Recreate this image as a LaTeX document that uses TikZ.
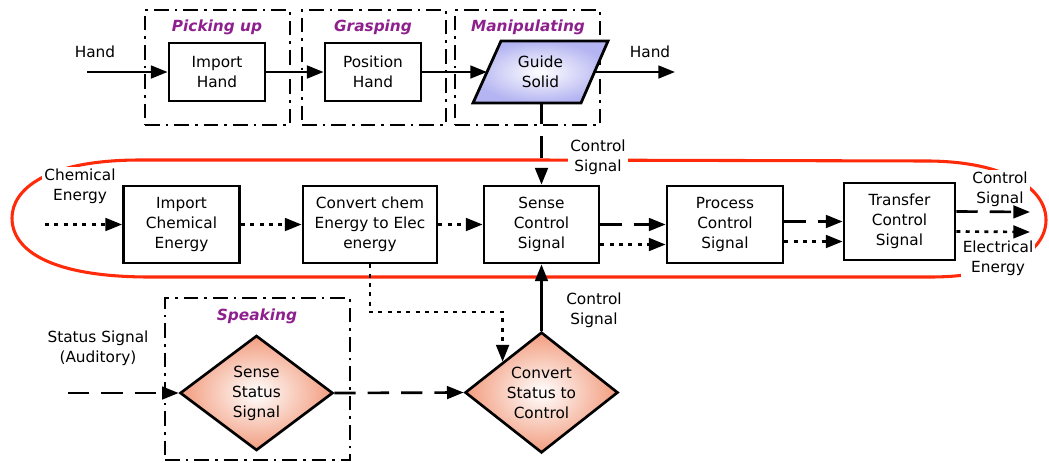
\documentclass[tikz,border=0pt]{standalone}
\usepackage{fontspec}
\setmainfont{DejaVu Sans}
\usetikzlibrary{arrows.meta,shapes.geometric,calc}
\definecolor{loopred}{HTML}{FF2A0A}
\definecolor{titlepurple}{HTML}{8E208E}
\definecolor{lavender}{HTML}{B4B4F2}
\definecolor{salmon}{HTML}{F29C7E}
\begin{document}
\begin{tikzpicture}[x=0.75pt,y=-0.75pt,
  font=\fontsize{11.5}{15}\selectfont,
  every node/.append style={align=center},
  func/.style={draw,line width=2.1pt,rectangle,inner sep=0pt},
  dia/.style={diamond,draw,line width=2pt,inner sep=0pt,
    minimum width=114.75pt,minimum height=86.25pt,
    inner color=white,outer color=salmon},
  frame/.style={draw,line width=1.9pt,
    dash pattern=on 11pt off 4.5pt on 2pt off 4.5pt,inner sep=0pt},
  title/.style={font=\fontsize{11.5}{15}\selectfont\bfseries\itshape,
    text=titlepurple},
  lbl/.style={fill=white,inner sep=1.5pt},
  flow/.style={line width=2pt,-{Triangle[length=12.5pt,width=9.5pt]}},
  mat/.style={flow},
  sig/.style={flow,dash pattern=on 16pt off 9pt},
  en/.style={flow,dash pattern=on 3pt off 4pt},
]
\useasboundingbox (0,0) rectangle (1049,462);

% energy/signal loop
\draw[loopred,line width=2.3pt] (540,160) -- (140,160)
  .. controls (45,160) and (12,190) .. (12,218)
  .. controls (12,250) and (50,277) .. (150,277) -- (930,277)
  .. controls (1005,277) and (1046,252) .. (1046,220)
  .. controls (1046,188) and (1005,162) .. (930,161) -- cycle;

% function groups
\node[frame,minimum width=108.75pt,minimum height=86.25pt] (fpick) at (217.5,67.5) {};
\node[frame,minimum width=108pt,minimum height=86.25pt] (fgrasp) at (374,67.5) {};
\node[frame,minimum width=108.75pt,minimum height=86.25pt] (fmanip) at (527.5,67.5) {};
\node[frame,minimum width=138.75pt,minimum height=121.5pt] (fspeak) at (257.5,379) {};

\node[title] (tpick) at (217,27) {Picking up};
\node[title] (tgrasp) at (373,27) {Grasping};
\node[title] (tmanip) at (528,27) {Manipulating};
\node[title] (tspeak) at (257,316) {Speaking};

% material row
\node[func,minimum width=72pt,minimum height=43.5pt] (ih) at (217,72) {Import\\Hand};
\node[func,minimum width=72pt,minimum height=43.5pt] (ph) at (373,72) {Position\\Hand};
\path[draw,line width=2.1pt,inner color=white,outer color=lavender]
  (473,103) -- (501,41) -- (608,41) -- (581,103) -- cycle;
\node (gs) at (540.5,72) {Guide\\Solid};
\coordinate (gsL) at (487,72);
\coordinate (gsR) at (594.5,72);
\coordinate (gsB) at (540,103);
\coordinate (handin) at (87,72);
\coordinate (handout) at (675,72);

% energy and signal row
\node[func,minimum width=87pt,minimum height=57.75pt] (ic) at (181.5,224.5) {Import\\Chemical\\Energy};
\node[func,minimum width=100.5pt,minimum height=57.75pt] (cv) at (370,224.5) {Convert chem\\Energy to Elec\\energy};
\node[func,minimum width=86.25pt,minimum height=57.75pt] (sc) at (541.5,224.5) {Sense\\Control\\Signal};
\node[func,minimum width=87pt,minimum height=57.75pt] (pc) at (725,224.5) {Process\\Control\\Signal};
\node[func,minimum width=83.25pt,minimum height=57.75pt] (tc) at (899.5,221.5) {Transfer\\Control\\Signal};
\coordinate (chemin) at (45,224.5);
\coordinate (ctrlout) at (1030,212);
\coordinate (elecout) at (1030,232);

% status row
\node[dia] (ss) at (256.5,393) {Sense\\Status\\Signal};
\node[dia] (cs) at (541.5,392.5) {Convert\\Status to\\Control};
\coordinate (statin) at (68,393);
\coordinate (bend) at (0,312);

% labels
\node (lhandin) at (95,52) {Hand};
\node (lhandout) at (650,52) {Hand};
\node[lbl] (lctrltop) at (598,157) {Control\\Signal};
\node[lbl] (lchem) at (80,186) {Chemical\\Energy};
\node[lbl] (lctrlout) at (1000,189) {Control\\Signal};
\node[lbl] (lelec) at (998,258) {Electrical\\Energy};
\node (lctrlbot) at (594,310) {Control\\Signal};
\node (lstat) at (98,348) {Status Signal\\(Auditory)};

% material flows
\draw[mat] (handin) -- (ih.west);
\draw[mat] (ih.east) -- (ph.west);
\draw[mat] (ph.east) -- (gsL);
\draw[mat] (gsR) -- (handout);

% signal flows
\draw[sig] (sc.north|-gsB) -- (sc.north);
\draw[sig] (sc.east) -- (pc.west);
\draw[sig] (pc.east|-tc.west) -- (tc.west);
\draw[sig] ([yshift=7.5pt]tc.east) -- (ctrlout);
\draw[sig] (statin) -- (ss.west);
\draw[sig] (ss.east) -- (cs.west);
\draw[flow] (cs.north) -- (sc.south);

% energy flows
\draw[en] (chemin) -- (ic.west);
\draw[en] (ic.east) -- (cv.west);
\draw[en] (cv.east|-sc.west) -- (sc.west);
\draw[en] ([yshift=-15pt]sc.east) -- ([yshift=-15pt]pc.west);
\draw[en] ([yshift=-15pt]pc.east|-tc.west) -- ([yshift=-15pt]tc.west);
\draw[en] ([yshift=-7.5pt]tc.east) -- (elecout);
\draw[en] (cv.south) -- (cv.south|-bend) -- (cs.north west|-bend) -- (cs.north west);
\end{tikzpicture}
\end{document}
